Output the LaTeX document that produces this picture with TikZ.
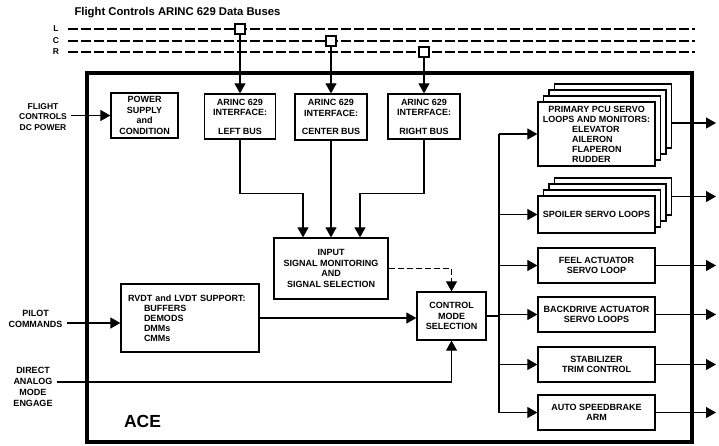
\documentclass[tikz,border=0pt]{standalone}
\usepackage{fontspec}
\setmainfont{Liberation Sans}
\usepackage{tikz}
\usetikzlibrary{calc}
\usetikzlibrary{arrows.meta}
\usetikzlibrary{positioning}

\tikzset{
  blk/.style={rectangle, draw=black, line width=1.3pt, fill=white, align=center, inner sep=1pt, font=\fontsize{9}{10.5}\selectfont\bfseries},
  sidelbl/.style={align=center, inner ysep=1pt, inner xsep=4pt, font=\fontsize{9}{11}\selectfont\bfseries},
  buslbl/.style={font=\fontsize{8.5}{10}\selectfont\bfseries},
  conn/.style={line width=1.2pt},
  arr/.style={conn, -{Triangle[length=10pt,width=11pt]}},
  busline/.style={line width=1.7pt, dash pattern=on 10pt off 3pt},
  tap/.style={rectangle, draw=black, line width=1.5pt, fill=white, minimum size=10pt, inner sep=0pt},
}

\begin{document}
\begin{tikzpicture}[x=1pt, y=-1pt]
\useasboundingbox (0,0) rectangle (719,445);

% data buses
\node [anchor=west, font=\fontsize{11.3}{13}\selectfont\bfseries] (title) at (71,13) {Flight Controls ARINC 629 Data Buses};
\node [buslbl] (busL) at (56,29) {L};
\node [buslbl] (busC) at (56,41) {C};
\node [buslbl] (busR) at (56,52) {R};
\coordinate (busstart) at (68,0);
\coordinate (busend) at (695,0);
\foreach \b in {L,C,R}
  \draw [busline] (busstart |- bus\b) -- (busend |- bus\b);
\node [tap] (tapL) at (240,29) {};
\node [tap] (tapC) at (331,41) {};
\node [tap] (tapR) at (424,52) {};

% ACE frame
\node [rectangle, draw=black, line width=4pt, minimum width=605pt, minimum height=369pt, inner sep=0pt] (ace) at (389.5,257.5) {};
\node [font=\fontsize{17.5}{20}\selectfont\bfseries] (acelbl) at (142.5,421) {ACE};

% outside inputs
\node [sidelbl, font=\fontsize{8.5}{10.5}\selectfont\bfseries] (dcpower) at (43,117) {FLIGHT\\CONTROLS\\DC POWER};
\node [sidelbl] (pilot) at (35.5,319) {PILOT\\COMMANDS};
\node [sidelbl] (direct) at (33,386.5) {DIRECT\\ANALOG\\MODE\\ENGAGE};

% upper row
\node [blk, minimum width=67pt, minimum height=45pt] (power) at (144.5,115.5) {POWER\\SUPPLY\\and\\CONDITION};
\node [blk, minimum width=71pt, minimum height=45pt] (arincL) at (240,116.5) {ARINC 629\\INTERFACE:\\[8pt]LEFT BUS};
\node [blk, minimum width=72pt, minimum height=46pt] (arincC) at (331,117) {ARINC 629\\INTERFACE:\\[8pt]CENTER BUS};
\node [blk, minimum width=72pt, minimum height=45pt] (arincR) at (424,116.5) {ARINC 629\\INTERFACE:\\[8pt]RIGHT BUS};

% middle
\node [blk, minimum width=114pt, minimum height=61pt] (input) at (331,268.5) {INPUT\\SIGNAL MONITORING\\AND\\SIGNAL SELECTION};
\node [blk, minimum width=69pt, minimum height=48pt] (ctrl) at (451.5,316) {CONTROL\\MODE\\SELECTION};
\node [blk, align=left, text width=124pt, inner xsep=7pt, minimum height=68pt, font=\fontsize{9}{10}\selectfont\bfseries] (rvdt) at (190,318)
  {RVDT and LVDT SUPPORT:\\\hspace*{16pt}BUFFERS\\\hspace*{16pt}DEMODS\\\hspace*{16pt}DMMs\\\hspace*{16pt}CMMs};

% servo loops (stacked ones first)
\foreach \i in {3,2,1}
  \node [blk, minimum width=117pt, minimum height=64pt] (pcu\i) at (596.5+5.5*\i, 134-6*\i) {};
\node [blk, minimum width=117pt, minimum height=64pt, font=\fontsize{9}{10}\selectfont\bfseries] (pcu) at (596.5,134)
  {PRIMARY PCU SERVO\\LOOPS AND MONITORS:\\\makebox[49pt][l]{ELEVATOR}\\\makebox[49pt][l]{AILERON}\\\makebox[49pt][l]{FLAPERON}\\\makebox[49pt][l]{RUDDER}};
\foreach \i in {3,2,1}
  \node [blk, minimum width=117pt, minimum height=37pt] (spoil\i) at (596.5+5.5*\i, 214.5-6*\i) {};
\node [blk, minimum width=117pt, minimum height=37pt] (spoil) at (596.5,214.5) {SPOILER SERVO LOOPS};
\node [blk, minimum width=117pt, minimum height=35pt] (feel) at (596.5,265.5) {FEEL ACTUATOR\\SERVO LOOP};
\node [blk, minimum width=117pt, minimum height=35pt] (backdr) at (596.5,314.5) {BACKDRIVE ACTUATOR\\SERVO LOOPS};
\node [blk, minimum width=117pt, minimum height=35pt] (stab) at (596.5,364.5) {STABILIZER\\TRIM CONTROL};
\node [blk, minimum width=117pt, minimum height=35pt] (auto) at (596.5,412.5) {AUTO SPEEDBRAKE\\ARM};

% bus taps
\draw [arr] (tapL) -- (arincL);
\draw [arr] (tapC) -- (arincC);
\draw [arr] (tapR) -- (arincR);

% into input monitoring
\draw [arr] (arincL.south) -- ++(0,54) -| ([xshift=-28pt]input.north);
\draw [arr] (arincC) -- (input);
\draw [arr] (arincR.south) -- ++(0,54) -| ([xshift=29pt]input.north);

% into control mode selection
\draw [arr, line width=1pt, dash pattern=on 6pt off 3pt] (input.east) -| (ctrl.north);
\draw [arr] (rvdt.east) -- (rvdt.east -| ctrl.west);
\draw [arr] ([yshift=4.5pt]direct.east) -| (ctrl.south);

% outside inputs
\draw [arr] (dcpower.east |- power.west) -- (power.west);
\coordinate (pin) at ([yshift=-5pt]rvdt.west);
\draw [arr] (pilot.east |- pin) -- (pin);

% distribution to servo loops
\coordinate (busx) at (499,0);
\draw [conn] (ctrl.east) -- (ctrl.east -| busx);
\draw [conn] (busx |- pcu.west) -- (busx |- auto.west);
\foreach \b in {pcu,spoil,feel,backdr,stab,auto}
  \draw [arr] (busx |- \b.west) -- (\b.west);

% outputs
\coordinate (outx) at (716,0);
\coordinate (pcuout) at ([yshift=-7pt]pcu3.east);
\draw [arr] (pcuout) -- (pcuout -| outx);
\foreach \b in {spoil3,feel,backdr,stab,auto}
  \draw [arr] (\b.east) -- (\b.east -| outx);
\end{tikzpicture}
\end{document}
